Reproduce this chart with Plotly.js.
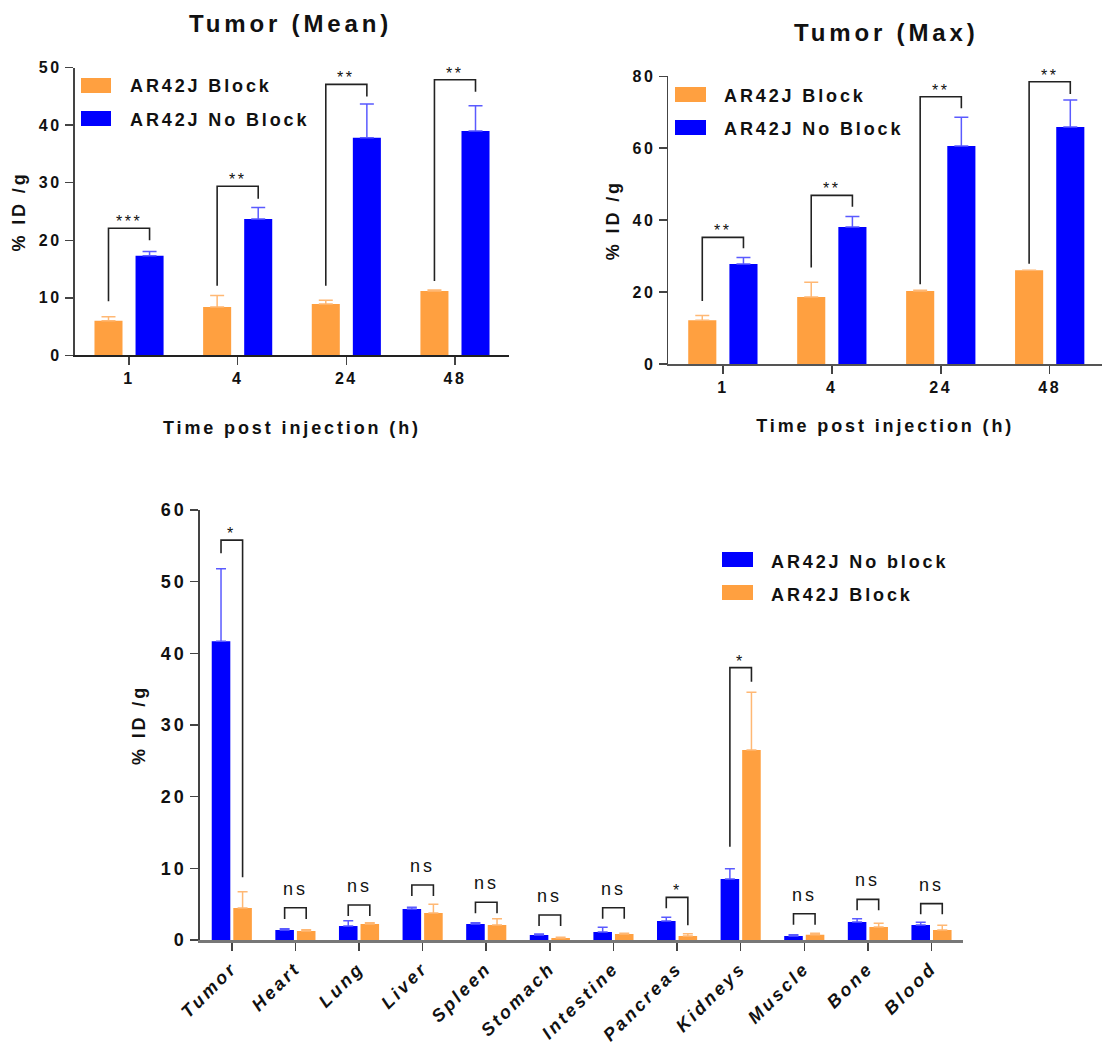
<!DOCTYPE html>
<html>
<head>
<meta charset="utf-8">
<script src="https://cdn.plot.ly/plotly-3.0.1.min.js"></script>
<style>
  html, body { margin: 0; padding: 0; background: #fff; }
  text { letter-spacing: 0.16em; }
</style>
</head>
<body>
<div id="chart" style="width:1102px;height:1045px;"></div>
<script>
// ---------- DATA ----------
const timeLabels = ['1', '4', '24', '48'];

// Tumor (Mean)
const meanBlock = [6.0, 8.4, 8.9, 11.2];
const meanBlockErr = [0.7, 2.0, 0.65, 0.15];
const meanNoBlock = [17.3, 23.7, 37.8, 39.0];
const meanNoBlockErr = [0.75, 2.0, 5.9, 4.4];
const meanBracketLeft = [9.4, 12.1, 12.1, 12.9];
const meanBracketTop = [22.1, 29.4, 47.1, 47.9];
const meanBracketRight = [20.0, 27.2, 45.0, 45.8];
const meanSig = ['***', '**', '**', '**'];

// Tumor (Max)
const maxBlock = [12.2, 18.6, 20.3, 26.1];
const maxBlockErr = [1.3, 4.1, 0.2, 0];
const maxNoBlock = [27.8, 38.1, 60.6, 65.9];
const maxNoBlockErr = [1.8, 2.9, 8.0, 7.5];
const maxBracketLeft = [17.5, 26.8, 22.2, 27.9];
const maxBracketTop = [35.2, 46.9, 74.3, 78.5];
const maxBracketRight = [32.2, 43.7, 71.1, 75.1];
const maxSig = ['**', '**', '**', '**'];

// Biodistribution
const organs = ['Tumor', 'Heart', 'Lung', 'Liver', 'Spleen', 'Stomach', 'Intestine', 'Pancreas', 'Kidneys', 'Muscle', 'Bone', 'Blood'];
const bioNoBlock = [41.7, 1.4, 1.95, 4.33, 2.23, 0.7, 1.12, 2.65, 8.51, 0.56, 2.51, 2.09];
const bioNoBlockErr = [10.1, 0.18, 0.75, 0.23, 0.19, 0.14, 0.65, 0.51, 1.44, 0.18, 0.47, 0.38];
const bioBlock = [4.47, 1.26, 2.23, 3.77, 2.09, 0.28, 0.84, 0.56, 26.5, 0.74, 1.81, 1.40];
const bioBlockErr = [2.27, 0.18, 0.19, 1.21, 0.89, 0.09, 0.09, 0.32, 8.06, 0.19, 0.52, 0.65];
const bioBracketLeft = [53.95, 2.93, 3.35, 6.14, 3.72, 1.95, 2.98, 4.42, 13.0, 2.14, 4.14, 3.58];
const bioBracketTop = [55.8, 4.51, 4.88, 7.67, 5.26, 3.49, 4.51, 5.95, 38.0, 3.67, 5.67, 5.07];
const bioBracketRight = [8.74, 2.93, 3.35, 6.14, 3.72, 1.95, 2.98, 2.05, 36.05, 2.14, 4.14, 3.58];
const bioSig = ['*', 'ns', 'ns', 'ns', 'ns', 'ns', 'ns', '*', '*', 'ns', 'ns', 'ns'];

const seriesNames = { block: 'AR42J Block', noBlock: 'AR42J No Block', noBlockLower: 'AR42J No block' };

// ---------- STYLE ----------
const W = 1102, H = 1045;
const FONT = 'Arial, "Liberation Sans", sans-serif';
const ORANGE = '#FFA040', ORANGE_ERR = '#FFB874';
const BLUE = '#0000FF', BLUE_ERR = '#5A5AFF';
const INK = '#111111';
const px = v => v / W;
const py = v => 1 - v / H;

const topBar = { w: 0.258, offA: -0.318, offB: 0.06 };
const botBar = { w: 0.292, offA: -0.3155, offB: 0.0235 };

function idx(arr) { return arr.map((_, i) => i); }

function barTrace(xs, ys, errs, color, errColor, bar, which, xa, ya, capW) {
  return {
    type: 'bar', x: xs, y: ys, xaxis: xa, yaxis: ya,
    width: bar.w, offset: which === 'A' ? bar.offA : bar.offB,
    marker: { color: color, line: { width: 0 } },
    error_y: { type: 'data', symmetric: false, array: errs, arrayminus: errs.map(() => 0),
               color: errColor, thickness: 1.5, width: capW },
    showlegend: false, hoverinfo: 'skip'
  };
}

const traces = [
  barTrace(idx(timeLabels), meanBlock, meanBlockErr, ORANGE, ORANGE_ERR, topBar, 'A', 'x', 'y', 7),
  barTrace(idx(timeLabels), meanNoBlock, meanNoBlockErr, BLUE, BLUE_ERR, topBar, 'B', 'x', 'y', 7),
  barTrace(idx(timeLabels), maxBlock, maxBlockErr, ORANGE, ORANGE_ERR, topBar, 'A', 'x2', 'y2', 7),
  barTrace(idx(timeLabels), maxNoBlock, maxNoBlockErr, BLUE, BLUE_ERR, topBar, 'B', 'x2', 'y2', 7),
  barTrace(idx(organs), bioNoBlock, bioNoBlockErr, BLUE, BLUE_ERR, botBar, 'A', 'x3', 'y3', 5),
  barTrace(idx(organs), bioBlock, bioBlockErr, ORANGE, ORANGE_ERR, botBar, 'B', 'x3', 'y3', 5)
];

const shapes = [];
const annotations = [];

function brackets(n, bar, lefts, tops, rights, sigs, xr, yr, sigSize) {
  for (let i = 0; i < n; i++) {
    const xl = i + bar.offA + bar.w / 2;
    const xrr = i + bar.offB + bar.w / 2;
    shapes.push({
      type: 'path', xref: xr, yref: yr,
      path: `M ${xl},${lefts[i]} L ${xl},${tops[i]} L ${xrr},${tops[i]} L ${xrr},${rights[i]}`,
      line: { color: '#222', width: 1.6 }
    });
    const isNs = sigs[i] === 'ns';
    annotations.push({
      xref: xr, yref: yr, x: (xl + xrr) / 2, y: tops[i],
      text: sigs[i], showarrow: false, xanchor: 'center', yanchor: 'bottom',
      yshift: isNs ? 7 : -4,
      font: { family: FONT, size: isNs ? 18 : sigSize, color: '#111' }
    });
  }
}
brackets(4, topBar, meanBracketLeft, meanBracketTop, meanBracketRight, meanSig, 'x', 'y', 16);
brackets(4, topBar, maxBracketLeft, maxBracketTop, maxBracketRight, maxSig, 'x2', 'y2', 16);
brackets(12, botBar, bioBracketLeft, bioBracketTop, bioBracketRight, bioSig, 'x3', 'y3', 16);

// Legends (drawn manually)
function legendItem(x0, y0, x1, y1, color, label, tx, ty) {
  shapes.push({ type: 'rect', xref: 'paper', yref: 'paper', x0: px(x0), x1: px(x1), y0: py(y1), y1: py(y0),
                fillcolor: color, line: { width: 0 } });
  annotations.push({ xref: 'paper', yref: 'paper', x: px(tx), y: py(ty), xanchor: 'left', yanchor: 'middle',
                     text: label, showarrow: false, font: { family: FONT, size: 18, weight: 'bold', color: INK } });
}
legendItem(81, 78, 111, 93, ORANGE, seriesNames.block, 128, 86);
legendItem(81, 111, 111, 126, BLUE, seriesNames.noBlock, 128, 119.5);
legendItem(675, 87, 706, 102, ORANGE, seriesNames.block, 722, 96);
legendItem(675, 120, 706, 135, BLUE, seriesNames.noBlock, 722, 129);
legendItem(722, 552, 753, 567, BLUE, seriesNames.noBlockLower, 769, 562);
legendItem(722, 585, 753, 600, ORANGE, seriesNames.block, 769, 595);

// Panel titles
annotations.push({ xref: 'paper', yref: 'paper', x: px(290), y: py(23), xanchor: 'center', yanchor: 'middle',
  text: 'Tumor (Mean)', showarrow: false, font: { family: FONT, size: 24, weight: 'bold', color: INK } });
annotations.push({ xref: 'paper', yref: 'paper', x: px(886), y: py(32), xanchor: 'center', yanchor: 'middle',
  text: 'Tumor (Max)', showarrow: false, font: { family: FONT, size: 24, weight: 'bold', color: INK } });

function xAxis(domain, anchor, cats, range, lineColor, lineW, tickFont, extra) {
  return Object.assign({
    domain: domain, anchor: anchor, range: range, tickmode: 'array',
    tickvals: idx(cats), ticktext: cats, showgrid: false, zeroline: false,
    showline: true, linecolor: lineColor, linewidth: lineW,
    ticks: 'outside', ticklen: 8, tickwidth: 1.5, tickcolor: '#444',
    tickfont: tickFont, fixedrange: true
  }, extra || {});
}
function yAxis(domain, anchor, range, dtick, titleText, tickSize, standoff) {
  return {
    domain: domain, anchor: anchor, range: range, dtick: dtick, tick0: 0,
    showgrid: false, zeroline: false, showline: true, linecolor: '#444', linewidth: 1.8,
    ticks: 'outside', ticklen: 8, tickwidth: 1.5, tickcolor: '#444',
    tickfont: { family: FONT, size: tickSize, weight: 'bold', color: INK },
    title: { text: titleText, standoff: standoff, font: { family: FONT, size: 18, weight: 'bold', color: INK } },
    fixedrange: true
  };
}

const layout = {
  width: W, height: H, margin: { l: 0, r: 0, t: 0, b: 0 },
  paper_bgcolor: '#fff', plot_bgcolor: '#fff', showlegend: false, barmode: 'overlay',
  font: { family: FONT, color: INK },
  xaxis: xAxis([px(74.7), px(509.3)], 'y', timeLabels, [-0.5, 3.5], '#222', 1.8,
    { family: FONT, size: 16, weight: 'bold', color: INK },
    { title: { text: 'Time post injection (h)', standoff: 35, font: { family: FONT, size: 18, weight: 'bold', color: INK } } }),
  yaxis: yAxis([py(355.3), py(67.7)], 'x', [0, 50], 10, '% ID /g', 16, 8),
  xaxis2: xAxis([px(668.4), 1], 'y2', timeLabels, [-0.5, 3.48], '#555', 1.8,
    { family: FONT, size: 16, weight: 'bold', color: INK },
    { title: { text: 'Time post injection (h)', standoff: 24, font: { family: FONT, size: 18, weight: 'bold', color: INK } } }),
  yaxis2: yAxis([py(364), py(76.3)], 'x2', [0, 80], 20, '% ID /g', 16, 8),
  xaxis3: xAxis([px(200), px(963.3)], 'y3', organs, [-0.5, 11.5], '#777', 2.5,
    { family: FONT, size: 18, weight: 'bold', style: 'italic', color: INK }, { tickangle: -45 }),
  yaxis3: yAxis([py(940), py(510)], 'x3', [0, 60], 10, '% ID /g', 18, 10),
  shapes: shapes,
  annotations: annotations
};

Plotly.newPlot('chart', traces, layout, { displayModeBar: false, staticPlot: true });
</script>
</body>
</html>
